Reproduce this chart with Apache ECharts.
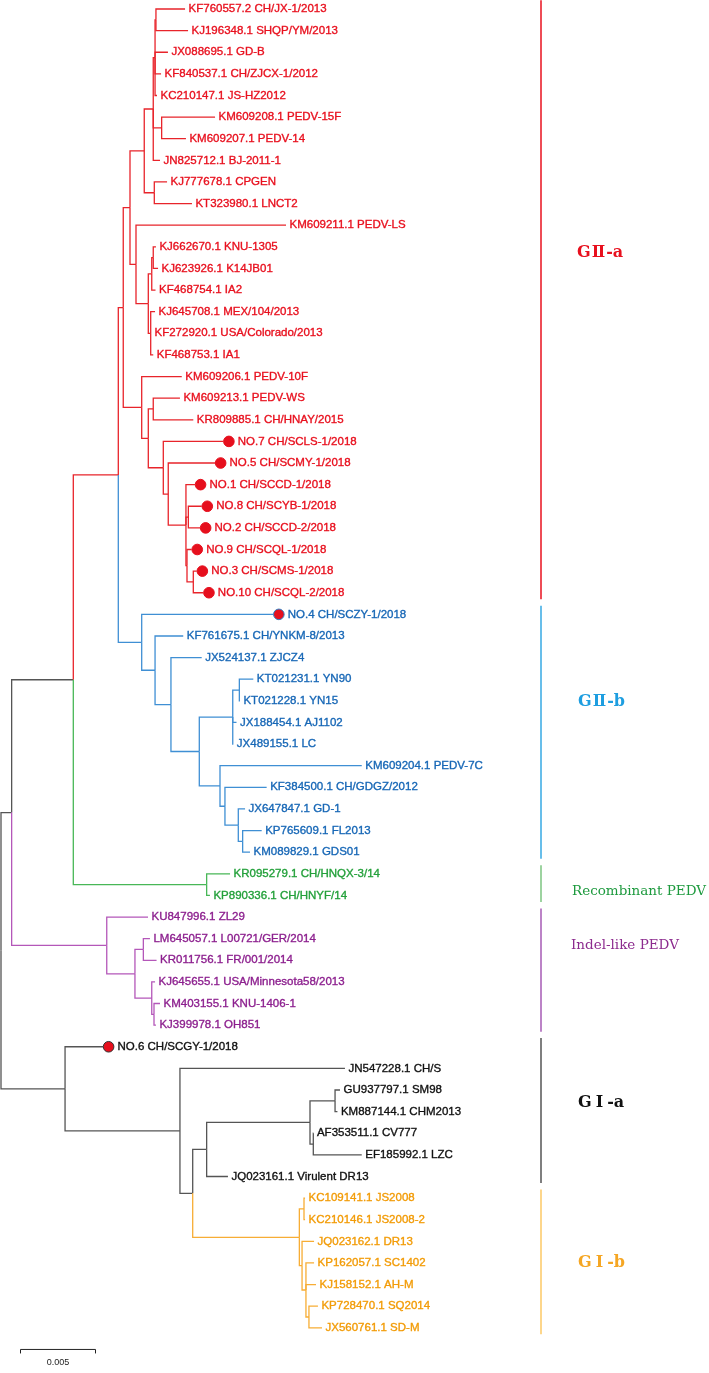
<!DOCTYPE html>
<html><head><meta charset="utf-8">
<script src="https://cdn.jsdelivr.net/npm/echarts@6/dist/echarts.min.js"></script>
<style>html,body{margin:0;padding:0;background:#fff}#c{width:709px;height:1373px}</style>
</head><body><div id="c"></div>
<script>
// ---------- DATA (depths = distance from root, in 1e-4 substitutions/site) ----------
const leafNames = [
 'KF760557.2 CH/JX-1/2013','KJ196348.1 SHQP/YM/2013','JX088695.1 GD-B','KF840537.1 CH/ZJCX-1/2012',
 'KC210147.1 JS-HZ2012','KM609208.1 PEDV-15F','KM609207.1 PEDV-14','JN825712.1 BJ-2011-1',
 'KJ777678.1 CPGEN','KT323980.1 LNCT2','KM609211.1 PEDV-LS','KJ662670.1 KNU-1305',
 'KJ623926.1 K14JB01','KF468754.1 IA2','KJ645708.1 MEX/104/2013','KF272920.1 USA/Colorado/2013',
 'KF468753.1 IA1','KM609206.1 PEDV-10F','KM609213.1 PEDV-WS','KR809885.1 CH/HNAY/2015',
 'NO.7 CH/SCLS-1/2018','NO.5 CH/SCMY-1/2018','NO.1 CH/SCCD-1/2018','NO.8 CH/SCYB-1/2018',
 'NO.2 CH/SCCD-2/2018','NO.9 CH/SCQL-1/2018','NO.3 CH/SCMS-1/2018','NO.10 CH/SCQL-2/2018',
 'NO.4 CH/SCZY-1/2018','KF761675.1 CH/YNKM-8/2013','JX524137.1 ZJCZ4','KT021231.1 YN90',
 'KT021228.1 YN15','JX188454.1 AJ1102','JX489155.1 LC','KM609204.1 PEDV-7C',
 'KF384500.1 CH/GDGZ/2012','JX647847.1 GD-1','KP765609.1 FL2013','KM089829.1 GDS01',
 'KR095279.1 CH/HNQX-3/14','KP890336.1 CH/HNYF/14',
 'KU847996.1 ZL29','LM645057.1 L00721/GER/2014','KR011756.1 FR/001/2014','KJ645655.1 USA/Minnesota58/2013',
 'KM403155.1 KNU-1406-1','KJ399978.1 OH851',
 'NO.6 CH/SCGY-1/2018','JN547228.1 CH/S','GU937797.1 SM98','KM887144.1 CHM2013',
 'AF353511.1 CV777','EF185992.1 LZC','JQ023161.1 Virulent DR13',
 'KC109141.1 JS2008','KC210146.1 JS2008-2','JQ023162.1 DR13','KP162057.1 SC1402',
 'KJ158152.1 AH-M','KP728470.1 SQ2014','JX560761.1 SD-M'
];
const leafParents = [
 'pairA','pairA','subA','subA','subA','KMpair','KMpair','N1','N3','N3','N5','KJpair','KJpair','g1',
 'g2','g2','g2','N7','N10','N10','N11','N12','N13','N14','N14','N15','N15b','N15b',
 'N16','N17','N18','YNpair','YNpair','N21','N21','N22','N23','N24','N25','N25',
 'Rc','Rc','In','pairL','pairL','trip','pairK','pairK',
 'G','n180','GK','GK','n313','n313','GIa',
 'JSpair','JSpair','R1','R2','R2','R3','R3'
];
const leafDepths = [
 122.7,124.7,111.3,106.7,104.0,142.7,123.3,106.0,110.7,127.3,190.0,103.3,104.7,103.0,
 102.7,100.0,101.5,120.5,119.3,128.2,148.2,142.7,129.3,133.8,132.7,127.1,130.5,134.9,
 181.5,121.5,133.8,168.2,159.3,157.0,154.9,240.5,177.1,162.7,173.8,166.0,
 152.7,139.3,98.0,99.3,103.7,102.7,106.0,103.3,
 68.0,229.3,226.0,224.3,208.3,240.5,151.3,
 202.7,202.7,208.7,208.7,210.0,211.3,214.0
];
const leafGroups = [
 0,0,0,0,0,0,0,0,0,0,0,0,0,0,0,0,0,0,0,0,0,0,0,0,0,0,0,0,
 1,1,1,1,1,1,1,1,1,1,1,1,
 2,2,
 3,3,3,3,3,3,
 4,4,4,4,4,4,4,
 5,5,5,5,5,5,5
];
const nodeIds     = ['root','n11','P','N8','N6','N4','N2','N1','subA','pairA','KMpair','N3','N5','KNU','g1','KJpair','g2',
 'N7','N9','N10','N11','N12','N13','N14','N15','N15b','N16','N17','N18','N20','N21','YNpair','N22','N23','N24','N25',
 'Rc','In','InSub','pairL','trip','pairK','G','n180','GI','GIa','n310','GK','n313','GIb','JSpair','R1','R2','R3'];
const nodeParents = [null,'root','n11','P','N8','N6','N4','N2','N1','subA','N1','N2','N4','N5','KNU','g1','KNU',
 'N6','N7','N9','N9','N11','N12','N13','N13','N15','N8','N16','N17','N18','N20','N21','N20','N22','N23','N24',
 'P','n11','In','InSub','InSub','trip','root','G','n180','GI','GIa','n310','n310','GI','GIb','GIb','R1','R2'];
const nodeDepths  = [0,7.1,48.2,78.2,81.5,86.0,95.5,101.5,102.7,103.3,107.1,102.2,90.0,98.2,100.5,101.5,99.8,
 93.8,98.2,101.5,108.2,111.5,123.3,124.9,124.0,128.2,93.8,102.7,113.3,132.2,154.5,158.9,146.0,149.3,158.2,161.1,
 137.1,70.5,89.3,94.9,100.5,102.0,42.7,119.3,127.8,137.1,206.0,222.7,208.2,198.9,202.0,200.7,203.3,205.3];
const nodeGroups  = [4,4,4,0,0,0,0,0,0,0,0,0,0,0,0,0,0,
 0,0,0,0,0,0,0,0,0,1,1,1,1,1,1,1,1,1,1,
 2,3,3,3,3,3,4,4,4,4,4,4,4,5,5,5,5,5];

const cladePrefix = ['G','G','Recombinant PEDV','Indel-like PEDV','G','G'];
const cladeNumeral = ['Ⅱ','Ⅱ','','','Ⅰ','Ⅰ'];
const cladeSuffix = ['-a','-b','','','-a','-b'];
const cladeFirstLeaf = [0,28,40,42,48,55];
const cladeLastLeaf  = [27,39,41,47,54,61];
const scaleBarLength = 50;      // = 0.005 substitutions/site
const scaleBarLabel = '0.005';

// ---------- STYLE / LAYOUT ----------
const lineColors  = ['#e8242b','#3f8fd4','#48b757','#b457b9','#555555','#f7ad35'];
const textColors  = ['#e8101e','#1767b6','#23a03a','#8c1f8e','#111111','#f29b06'];
const barColors   = ['#e8101e','#36a9e3','#7cc580','#a65ab5','#555555','#fcc864'];
const labelColors = ['#e8101e','#1e9ee0','#1d9a3e','#8c2b8e','#111111','#f5a623'];
const labelSize   = [16,16,13.5,13.5,16,16];
const labelWeight = ['bold','bold','normal','normal','bold','bold'];
const numeralPad  = [[0,1,0,1],[0,1,0,1],[0,0,0,0],[0,0,0,0],[0,4,0,4],[0,4,0,4]];
const cladeLabelRow = [11.3,32.05,40.8,43.3,50.6,58.0];
const barPx = 541;
const labelPx = [577,578,572,571,578,578];

// ---------- build tree geometry ----------
const info = {};
nodeIds.forEach((id,k)=>{ info[id] = {x:nodeDepths[k], g:nodeGroups[k], kids:[]}; });
leafNames.forEach((n,i)=>{ info[leafParents[i]].kids.push({leaf:i}); });
nodeIds.forEach((id,k)=>{ if(nodeParents[k]) info[nodeParents[k]].kids.push({node:id}); });
function yOf(ref){
  if (ref.leaf !== undefined) return ref.leaf;
  const nd = info[ref.node];
  if (nd.y !== undefined) return nd.y;
  const ys = nd.kids.map(yOf);
  nd.y = (Math.min(...ys) + Math.max(...ys)) / 2;
  return nd.y;
}
nodeIds.forEach(id=>yOf({node:id}));
const edges = [];
leafNames.forEach((n,i)=>{ const p = info[leafParents[i]]; edges.push([p.x, p.y, leafDepths[i], i, leafGroups[i]]); });
nodeIds.forEach((id,k)=>{ const pid = nodeParents[k]; if(!pid) return; const p = info[pid]; edges.push([p.x, p.y, info[id].x, info[id].y, info[id].g]); });

const chart = echarts.init(document.getElementById('c'), null, {renderer:'canvas'});
chart.setOption({
  animation:false,
  backgroundColor:'#ffffff',
  grid:{left:1, top:9, width:708, height:61*21.62},
  xAxis:{type:'value', min:0, max:472, show:false},
  yAxis:{type:'value', min:0, max:61, inverse:true, show:false},
  series:[
    { type:'custom', clip:false, data:edges,
      renderItem:(params, api)=>{
        const p0 = api.coord([api.value(0), api.value(1)]);
        const p1 = api.coord([api.value(0), api.value(3)]);
        const p2 = api.coord([api.value(2), api.value(3)]);
        return {type:'polyline', shape:{points:[p0,p1,p2]}, style:{stroke:lineColors[api.value(4)], lineWidth:1.3, fill:null}};
      }
    },
    { type:'custom', clip:false, data:leafDepths.map((d,i)=>[d,i]),
      renderItem:(params, api)=>{
        const i = params.dataIndex;
        const pt = api.coord([api.value(0), api.value(1)]);
        const g = leafGroups[i];
        const dot = leafNames[i].indexOf('NO.') === 0;
        const ch = [];
        if (dot) ch.push({type:'circle', shape:{cx:pt[0]+5.6, cy:pt[1], r:5.3},
          style:{fill:'#e60f1d', stroke: g===0 ? '#e60f1d' : (g===1 ? '#2f7fc6' : '#333333'), lineWidth:1}});
        ch.push({type:'text', x:pt[0] + (dot ? 14.5 : 3.5), y:pt[1],
          style:{text:leafNames[i], fill:textColors[g], stroke:textColors[g], lineWidth:0.35,
                 font:'11.5px "Liberation Sans", Arial, sans-serif', align:'left', verticalAlign:'middle'}});
        return {type:'group', children:ch};
      }
    },
    { type:'custom', clip:false, data:cladePrefix.map((t,k)=>[cladeFirstLeaf[k], cladeLastLeaf[k], cladeLabelRow[k]]),
      renderItem:(params, api)=>{
        const k = params.dataIndex;
        const top = api.coord([0, api.value(0) - 0.4])[1];
        const bot = api.coord([0, api.value(1) + 0.3])[1];
        const ly = api.coord([0, api.value(2)])[1];
        const base = {fontFamily:'"DejaVu Serif", serif', fontSize:labelSize[k], fontWeight:labelWeight[k], color:labelColors[k]};
        const txt = '{a|' + cladePrefix[k] + '}' + (cladeNumeral[k] ? '{b|' + cladeNumeral[k] + '}{a|' + cladeSuffix[k] + '}' : '');
        return {type:'group', children:[
          {type:'line', shape:{x1:barPx, y1:top, x2:barPx, y2:bot}, style:{stroke:barColors[k], lineWidth:1.5}},
          {type:'text', x:labelPx[k], y:ly, style:{text:txt, fill:labelColors[k],
            font: labelWeight[k] + ' ' + labelSize[k] + 'px "DejaVu Serif", serif',
            rich:{a:Object.assign({}, base), b:Object.assign({padding:numeralPad[k]}, base)},
            align:'left', verticalAlign:'middle'}}
        ]};
      }
    },
    { type:'custom', clip:false, data:[[13, 62.0, scaleBarLength]],
      renderItem:(params, api)=>{
        const a = api.coord([api.value(0), api.value(1)]);
        const b = api.coord([api.value(0) + api.value(2), api.value(1)]);
        const ty = api.coord([0, api.value(1) + 0.62])[1];
        return {type:'group', children:[
          {type:'line', shape:{x1:a[0], y1:a[1], x2:b[0], y2:b[1]}, style:{stroke:'#222', lineWidth:1}},
          {type:'line', shape:{x1:a[0], y1:a[1], x2:a[0], y2:a[1]+4}, style:{stroke:'#222', lineWidth:1}},
          {type:'line', shape:{x1:b[0], y1:b[1], x2:b[0], y2:b[1]+4}, style:{stroke:'#222', lineWidth:1}},
          {type:'text', x:(a[0]+b[0])/2, y:ty, style:{text:scaleBarLabel, fill:'#222', font:'9px "Liberation Sans", Arial, sans-serif', align:'center', verticalAlign:'middle'}}
        ]};
      }
    }
  ]
});
</script></body></html>
